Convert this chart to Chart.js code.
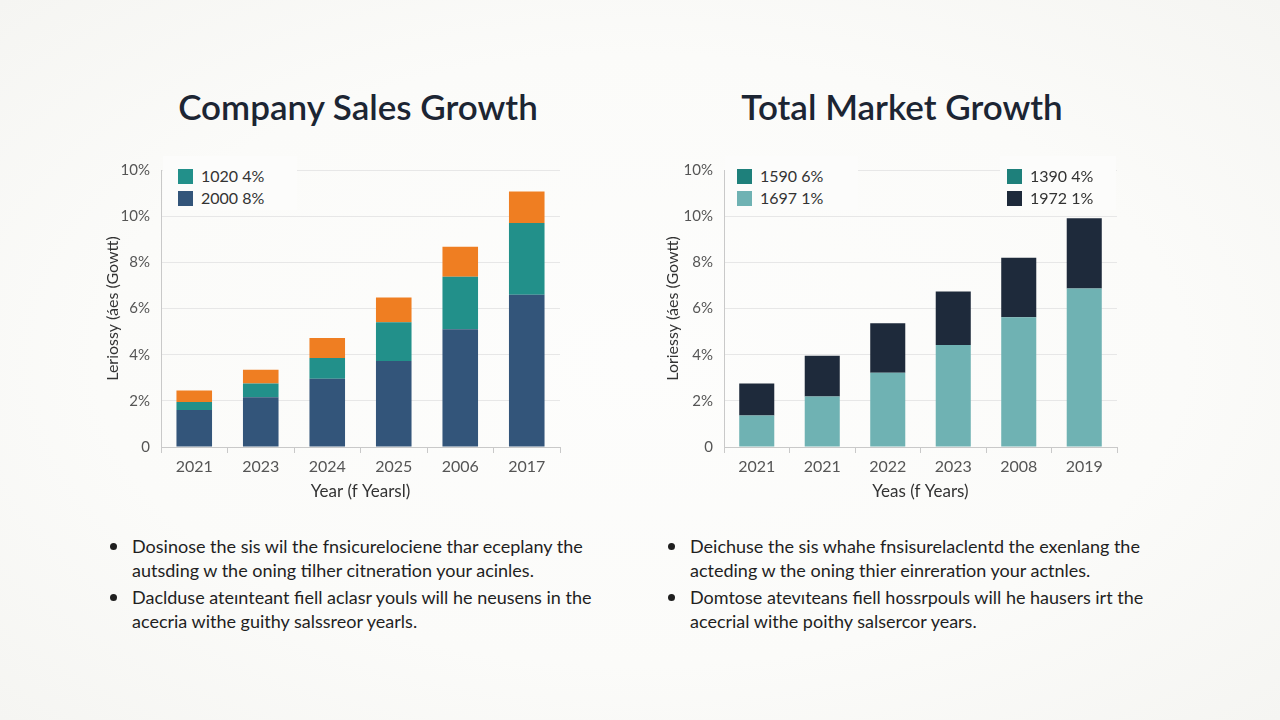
<!DOCTYPE html>
<html>
<head>
<meta charset="utf-8">
<script src="https://cdn.jsdelivr.net/npm/chart.js@4.4.1/dist/chart.umd.min.js"></script>
<style>
  html, body { margin:0; padding:0; }
  body { width:1280px; height:720px; position:relative; overflow:hidden;
         background: radial-gradient(ellipse at center, #fdfdfc 0%, #fbfbf9 60%, #f5f5f2 100%);
         font-family: Lato, 'Noto Sans', sans-serif; }
  .title { position:absolute; width:600px; text-align:center; font-size:35px; font-weight:600;
           color:#1c2533; top:85px; line-height:42px; }
  canvas { position:absolute; }
  .legend { position:absolute; background:#fcfcfb; }
  .lg-item { position:absolute; white-space:nowrap; font-size:16px; color:#333; line-height:18px; }
  .lg-item span.sw { position:absolute; left:0; top:1px; width:15px; height:15px; }
  .lg-item span.tx { position:absolute; left:23px; top:-1px; }
  .bullets { position:absolute; margin:0; padding:0; list-style:none; font-size:18px; color:#1f1f1f; }
  .bullets li { position:relative; line-height:24px; white-space:nowrap; margin-bottom:3px; }
  .bullets li::before { content:''; position:absolute; left:-22px; top:9px; width:7px; height:7px;
                        border-radius:50%; background:#1f1f1f; }
</style>
</head>
<body>

<div class="title" style="left:58px;">Company Sales Growth</div>
<div class="title" style="left:602px;">Total Market Growth</div>

<canvas id="left" width="490" height="370" style="left:90px; top:150px;"></canvas>
<canvas id="right" width="490" height="370" style="left:650px; top:150px;"></canvas>

<div class="legend" id="legL" style="left:163px; top:156px; width:134px; height:54px;"></div>
<div class="legend" id="legR1" style="left:725px; top:156px; width:133px; height:54px;"></div>
<div class="legend" id="legR2" style="left:1000px; top:156px; width:116px; height:54px;"></div>

<ul class="bullets" style="left:132px; top:534px;">
  <li>Dosinose the sis wil the fnsicurelociene thar eceplany the<br>autsding w the oning tilher citneration your acinles.</li>
  <li>Daclduse ateınteant fiell aclasr youls will he neusens in the<br>acecria withe guithy salssreor yearls.</li>
</ul>
<ul class="bullets" style="left:690px; top:534px;">
  <li>Deichuse the sis whahe fnsisurelaclentd the exenlang the<br>acteding w the oning thier einreration your actnles.</li>
  <li>Domtose atevıteans fiell hossrpouls will he hausers irt the<br>acecrial withe poithy salsercor years.</li>
</ul>

<script>
// ---- Data ----
const categoriesLeft = ['2021', '2023', '2024', '2025', '2006', '2017'];
const salesBase = [1.6, 2.15, 2.96, 3.73, 5.1, 6.6];
const salesMid  = [0.35, 0.6, 0.9, 1.67, 2.28, 3.1];
const salesTop  = [0.5, 0.6, 0.86, 1.08, 1.29, 1.37];

const categoriesRight = ['2021', '2021', '2022', '2023', '2008', '2019'];
const marketBase = [1.37, 2.19, 3.22, 4.42, 5.62, 6.87];
const marketTop  = [1.38, 1.76, 2.14, 2.32, 2.58, 3.04];

const yTickValues = [0, 2, 4, 6, 8, 10, 12];
const yTickLabels = ['0', '2%', '4%', '6%', '8%', '10%', '10%'];

const legendLeft = ['1020 4%', '2000 8%'];
const legendRightA = ['1590 6%', '1697 1%'];
const legendRightB = ['1390 4%', '1972 1%'];

const titleLeftX = 'Year (f Yearsl)';
const titleLeftY = 'Leriossy (áes (Gowtt)';
const titleRightX = 'Yeas (f Years)';
const titleRightY = 'Loriessy (áes (Gowtt)';

// ---- Styles ----
const C = { navyBlue:'#33557a', teal:'#22908a', orange:'#ef7e22', lightTeal:'#6fb2b3', navy:'#1e2a3b', legTeal:'#1e807b' };

Chart.defaults.font.family = 'Lato, "Noto Sans", sans-serif';
Chart.defaults.animation = false;

function makeOptions(xTitle, yTitle, yWidth, rightPad) {
  return {
    responsive: false,
    animation: false,
    layout: { padding: { top: 17, right: rightPad, left: 0, bottom: 0 } },
    plugins: { legend: { display: false }, tooltip: { enabled: false } },
    scales: {
      x: {
        stacked: true,
        grid: { drawOnChartArea: false, drawTicks: true, tickLength: 6, color: '#c9c9c9' },
        border: { color: '#c9c9c9' },
        ticks: { color: '#555', font: { size: 16 }, padding: 4, maxRotation: 0 },
        title: { display: true, text: xTitle, color: '#333', font: { size: 17 }, padding: { top: 4, bottom: 18 } },
        afterFit: s => { s.height = 73; }
      },
      y: {
        stacked: true,
        min: 0, max: 12,
        afterBuildTicks: s => { s.ticks = yTickValues.map(v => ({ value: v })); },
        grid: { color: '#e7e7e7', drawTicks: false },
        border: { display: true, color: '#c9c9c9' },
        ticks: { color: '#555', font: { size: 15 }, padding: 11,
                 callback: v => { const i = yTickValues.indexOf(v); return i >= 0 ? yTickLabels[i] : ''; } },
        title: { display: true, text: yTitle, color: '#333', font: { size: 16 }, padding: { top: 13, bottom: 0 } },
        afterFit: s => { s.width = yWidth; }
      }
    }
  };
}

const barOpts = { categoryPercentage: 1, barPercentage: 0.535, borderWidth: 0 };

new Chart(document.getElementById('left'), {
  type: 'bar',
  data: {
    labels: categoriesLeft,
    datasets: [
      Object.assign({ label: 'base', data: salesBase, backgroundColor: C.navyBlue }, barOpts),
      Object.assign({ label: 'mid', data: salesMid, backgroundColor: C.teal }, barOpts),
      Object.assign({ label: 'top', data: salesTop, backgroundColor: C.orange }, barOpts)
    ]
  },
  options: makeOptions(titleLeftX, titleLeftY, 71, 20)
});

new Chart(document.getElementById('right'), {
  type: 'bar',
  data: {
    labels: categoriesRight,
    datasets: [
      Object.assign({ label: 'base', data: marketBase, backgroundColor: C.lightTeal }, barOpts),
      Object.assign({ label: 'top', data: marketTop, backgroundColor: C.navy }, barOpts)
    ]
  },
  options: makeOptions(titleRightX, titleRightY, 74, 23)
});

// ---- Legends ----
function buildLegend(el, labels, colors, swLeft) {
  labels.forEach((t, i) => {
    const d = document.createElement('div');
    d.className = 'lg-item';
    d.style.left = swLeft + 'px';
    d.style.top = (12 + i * 22) + 'px';
    d.innerHTML = '<span class="sw" style="background:' + colors[i] + '"></span><span class="tx">' + t + '</span>';
    el.appendChild(d);
  });
}
buildLegend(document.getElementById('legL'), legendLeft, [C.teal, C.navyBlue], 15);
buildLegend(document.getElementById('legR1'), legendRightA, [C.legTeal, C.lightTeal], 12);
buildLegend(document.getElementById('legR2'), legendRightB, [C.legTeal, C.navy], 7);
</script>
</body>
</html>
